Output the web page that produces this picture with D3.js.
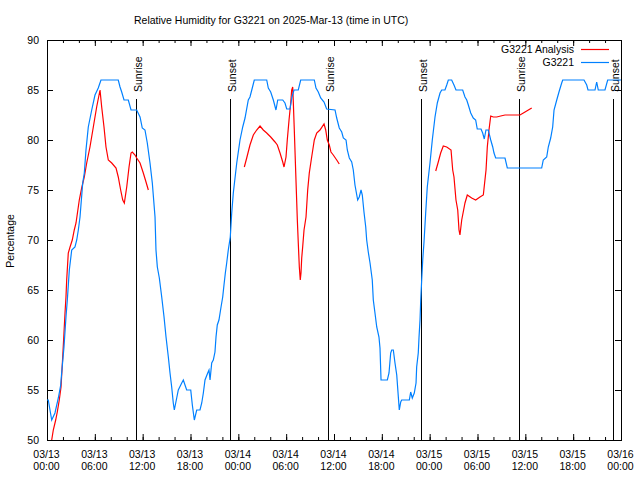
<!doctype html>
<html>
<head>
  <meta charset="utf-8">
  <title>Relative Humidity for G3221</title>
  <style>
  body { margin: 0; background: #fff; }
  #vis text { font-family: "Liberation Sans", Arial, sans-serif; font-size: 10.5px; fill: #000; }
  </style>
</head>
<body>
  <div id="vis"></div>
  <script src="https://d3js.org/d3.v7.min.js"></script>
  <script>
  // hours after 2025-03-13 00:00 UTC, relative humidity in %
  var obsHours = [0, 0.16, 0.59, 1.0, 1.42, 1.72, 1.84, 2.13, 2.38, 2.55, 2.8, 3.1, 3.51, 3.73, 3.93, 4.14, 4.48, 4.68, 4.89, 5.18, 5.61, 6.02, 6.43, 6.77,
    8.94, 9.16, 9.37, 9.66, 10.2, 10.54, 11.25, 11.67, 11.95, 12.29, 12.58, 12.92, 13.21, 13.55, 13.67, 13.84, 14.09, 14.39, 14.68, 14.93, 15.22, 15.43, 15.64, 15.84, 15.97,
    16.27, 16.47, 16.9, 17.1, 17.31, 17.52, 18.03, 18.23, 18.48, 18.78, 19.19, 19.41, 19.61, 19.82, 20.16, 20.32, 20.45, 20.66, 20.86, 21.07, 21.2, 21.36, 21.57, 21.83,
    22.04, 22.2, 22.37, 22.54, 22.74, 22.99, 23.17, 23.37, 23.8, 24.21, 24.55, 24.84, 25.25, 25.46, 25.75, 26.0, 27.56, 27.76, 28.06, 28.39, 28.72, 28.94, 29.57, 29.85,
    30.07, 30.48, 30.73, 30.98, 31.52, 31.82, 33.53, 33.74, 34.03, 34.33, 34.75, 35.08, 36.13, 36.34, 36.66, 36.97, 37.17, 37.51, 37.67, 37.92, 38.22, 38.42, 38.63,
    38.97, 39.17, 39.39, 39.55, 39.76, 39.98, 40.1, 40.3, 40.52, 40.8, 40.93, 41.14, 41.36, 41.64, 41.77, 41.9, 42.69, 42.9, 43.11, 43.24, 43.44, 43.65, 43.87, 44.07,
    44.19, 44.37, 44.49, 45.45, 45.62, 45.82, 46.07, 46.29, 46.37, 46.57, 46.66, 46.79, 46.88, 47.0, 47.13, 47.29, 47.5, 47.7, 48.04, 48.33, 48.67, 48.96, 49.3, 49.51,
    49.92, 50.14, 50.34, 50.76, 51.05, 51.3, 52.14, 52.43, 52.65, 52.85, 53.15, 53.47, 53.77, 53.97, 54.44, 54.65, 54.85, 55.06, 55.35, 55.66, 55.91, 56.07, 56.28,
    57.45, 57.74, 62.05, 62.25, 62.68, 62.88, 63.18, 63.43, 63.6, 63.94, 64.22, 64.56, 64.69, 67.36, 67.7, 67.86, 68.74, 68.95, 69.15, 69.99, 70.33, 72];
  var obsRH = [54, 54, 52, 52.7, 54.2, 55.5, 56.7, 59.3, 62.3, 64, 67, 69, 69.3, 70, 71, 72.3, 75.7, 76.7, 79, 81.3, 83, 84.5, 85.2, 86,
    86, 85.3, 84.8, 84, 84, 83, 83, 82.3, 81.2, 81, 79.7, 77.7, 75.7, 72.3, 69, 67.3, 66.2, 64.3, 62.3, 60.3, 58.3, 56.7, 55.3, 53.7, 53,
    54.2, 55, 55.7, 56, 55.5, 55, 55, 53.5, 52, 53, 53, 53.7, 54.7, 56, 56.7, 57, 56, 57.7, 58, 58.8, 60.3, 61.5, 62, 63.3,
    64.3, 65.5, 66.7, 67.7, 69, 70.3, 72.7, 74.7, 77.7, 80, 81.3, 82.2, 84, 84.3, 85.2, 86, 86, 85.2, 84.8, 84, 83, 84, 84, 83.7,
    83.1, 83.1, 84.3, 85, 85, 86, 86, 85.2, 84.8, 84.2, 83.8, 83.1, 83, 82.2, 81.2, 80.8, 80.2, 80, 79, 78.2, 77.8, 77, 75.5,
    74, 74.3, 75, 74.5, 72.8, 71.3, 70, 68.8, 67.7, 66, 64, 62.7, 61.3, 60.3, 59.2, 56, 56, 56.7, 58.7, 59, 59, 57.7, 56.5, 54.3,
    53, 53.8, 54, 54, 54.8, 54.2, 54.7, 55.7, 57.3, 58.7, 60.2, 62, 64, 66, 68, 69.8, 72.7, 75.3, 77.7, 80, 82.3, 83.7, 84.7, 85,
    85, 85.5, 86, 86, 85.5, 85, 85, 84.3, 84, 83.5, 82.7, 82.2, 82, 81.1, 81.1, 80.7, 80.1, 81, 81, 80, 79.3, 78.7, 78.2,
    78.2, 77.2, 77.2, 78, 78.3, 79.3, 80.2, 81.3, 83, 84, 84.8, 85.7, 86, 86, 85.5, 85, 85, 85.8, 85, 85, 86, 86];

  // analysis series, null marks a gap
  var anaHours = [0.59, 0.79, 1.09, 1.29, 1.54, 1.76, 1.97, 2.13, 2.26, 2.38, 2.47, 2.67, 2.89, 3.17, 3.42, 3.64, 4.05, 4.35, 4.68, 4.98, 5.39, 5.81, 6.23, 6.65,
    6.86, 7.15, 7.4, 7.69, 8.12, 8.66, 8.94, 9.24, 9.5, 9.7, 10.0, 10.29, 10.54, 10.7, 11.04, 11.25, 11.67, 12.08, 12.42, 12.71,
    18,
    24.75, 25.05, 25.46, 25.88, 26.3, 26.72, 27.13, 27.56, 28.06, 28.6, 28.89, 29.23, 29.57, 29.73, 29.98, 30.14, 30.36, 30.57, 30.69, 30.82, 30.9, 31.02, 31.2,
    31.4, 31.52, 31.65, 31.77, 31.86, 31.95, 32.07, 32.24, 32.49, 32.7, 32.9, 33.2, 33.53, 33.83, 34.24, 34.75, 34.96, 35.16, 35.41, 35.62, 35.91, 36.34, 36.66,
    42,
    48.76, 49.08, 49.38, 49.71, 50.14, 50.68, 50.89, 51.05, 51.3, 51.52, 51.68, 51.8, 52.02, 52.43, 52.72, 53.27, 53.77, 54.31, 54.73, 55.07, 55.23, 55.44, 55.66,
    55.98, 56.41, 56.91, 57.45, 59.33, 59.75, 60.17, 60.8];
  var anaRH = [50, 51, 52, 52.8, 54, 55.3, 58.3, 60.7, 62.7, 64.3, 66, 68.7, 69.3, 70, 71, 71.7, 74, 75.2, 76.3, 77.7, 79.3, 81.3, 83.3, 85,
    83.3, 81.3, 79.3, 78, 77.7, 77.2, 76.3, 75, 74, 73.7, 75.3, 77.3, 78.7, 78.8, 78.5, 78.2, 77.7, 76.7, 75.8, 75,
    null,
    77.3, 78.2, 79.5, 80.5, 81, 81.4, 81, 80.7, 80.3, 79.8, 79.5, 78.7, 77.8, 77.3, 78.3, 80, 82, 83.7, 85, 85.3, 83.7, 81, 76.7,
    72, 69.7, 67.3, 66, 66.7, 68.2, 69.3, 71, 72.3, 75, 76.7, 78.3, 80, 80.7, 81, 81.6, 81, 80, 79.5, 78.8, 78.5, 78, 77.6,
    null,
    76.9, 77.8, 78.7, 79.4, 79.3, 79, 77, 76.3, 74, 73, 71, 70.5, 72, 73.7, 74.5, 74.2, 74, 74.3, 74.5, 77, 79.3, 81, 82.4,
    82.3, 82.3, 82.4, 82.5, 82.5, 82.7, 82.9, 83.2];

  var sunHours = [11.2, 23.0, 35.28, 46.95, 59.24, 71.03];
  var sunLabels = ['Sunrise', 'Sunset', 'Sunrise', 'Sunset', 'Sunrise', 'Sunset'];

  var seriesNames = ['G3221 Analysis', 'G3221'];
  var seriesColors = ['#ff0000', '#0080ff'];
  var yTicks = [50, 55, 60, 65, 70, 75, 80, 85, 90];

  var width = 640, height = 480;
  var margin = { top: 40, right: 19, bottom: 40, left: 47 };
  var t0 = Date.UTC(2025, 2, 13);
  function toDate(h){ return new Date(t0 + h * 3600000); }

  var svg = d3.select('#vis').append('svg')
    .attr('width', width)
    .attr('height', height);

  var x = d3.scaleUtc()
    .domain([toDate(0), toDate(72)])
    .range([margin.left, width - margin.right]);
  var y = d3.scaleLinear()
    .domain([50, 90])
    .range([height - margin.bottom, margin.top]);

  // minor ticks every 2 hours
  var minor = d3.utcHour.every(2).range(toDate(0), toDate(72.1));
  svg.append('g')
    .attr('transform', 'translate(0,' + y(50) + ')')
    .call(d3.axisBottom(x).tickValues(minor).tickSize(-3).tickFormat(''))
    .call(function(g){ g.select('.domain').remove(); });
  svg.append('g')
    .attr('transform', 'translate(0,' + y(90) + ')')
    .call(d3.axisTop(x).tickValues(minor).tickSize(-3).tickFormat(''))
    .call(function(g){ g.select('.domain').remove(); });

  // major ticks every 6 hours
  var major = d3.utcHour.every(6).range(toDate(0), toDate(72.1));
  var fmtDay = d3.utcFormat('%m/%d'), fmtHour = d3.utcFormat('%H:%M');
  var gx = svg.append('g')
    .attr('transform', 'translate(0,' + y(50) + ')')
    .call(d3.axisBottom(x).tickValues(major).tickSize(-6).tickFormat(''));
  gx.select('.domain').remove();
  gx.selectAll('.tick').append('text')
    .attr('text-anchor', 'middle')
    .attr('x', -1)
    .attr('y', 17.5)
    .text(function(d){ return fmtDay(d); });
  gx.selectAll('.tick').append('text')
    .attr('text-anchor', 'middle')
    .attr('x', -1)
    .attr('y', 30)
    .text(function(d){ return fmtHour(d); });
  svg.append('g')
    .attr('transform', 'translate(0,' + y(90) + ')')
    .call(d3.axisTop(x).tickValues(major).tickSize(-6).tickFormat(''))
    .call(function(g){ g.select('.domain').remove(); });

  var gy = svg.append('g')
    .attr('transform', 'translate(' + margin.left + ',0)')
    .call(d3.axisLeft(y).tickValues(yTicks).tickSize(-6).tickPadding(8));
  gy.select('.domain').remove();
  gy.selectAll('text').attr('font-size', null).attr('font-family', null);
  svg.append('g')
    .attr('transform', 'translate(' + (width - margin.right) + ',0)')
    .call(d3.axisRight(y).tickValues(yTicks).tickSize(-6).tickFormat(''))
    .call(function(g){ g.select('.domain').remove(); });
  svg.selectAll('.tick line').attr('stroke', '#000');
  svg.selectAll('g').attr('font-size', null).attr('font-family', null);

  svg.append('rect')
    .attr('x', x.range()[0] + 0.5)
    .attr('y', y(90) + 0.5)
    .attr('width', x.range()[1] - x.range()[0])
    .attr('height', y(50) - y(90))
    .attr('fill', 'none')
    .attr('stroke', '#000');

  // sunrise / sunset markers
  var sun = svg.append('g').selectAll('g').data(sunHours).enter().append('g');
  sun.append('line')
    .attr('x1', function(d){ return Math.round(x(toDate(d))) + 0.5; })
    .attr('x2', function(d){ return Math.round(x(toDate(d))) + 0.5; })
    .attr('y1', y(84.1))
    .attr('y2', y(50))
    .attr('stroke', '#000');
  sun.append('text')
    .attr('transform', function(d){ return 'translate(' + (Math.round(x(toDate(d))) + 6) + ',' + 92 + ') rotate(-90)'; })
    .text(function(d, i){ return sunLabels[i]; });

  var line = d3.line()
    .defined(function(d){ return d[1] !== null; })
    .x(function(d){ return x(toDate(d[0])); })
    .y(function(d){ return y(d[1]); });

  var anaData = anaHours.map(function(h, i){ return [h, anaRH[i]]; });
  var obsData = obsHours.map(function(h, i){ return [h, obsRH[i]]; });

  svg.append('path')
    .datum(anaData)
    .attr('fill', 'none')
    .attr('stroke', seriesColors[0])
    .attr('stroke-width', 1.2)
    .attr('d', line);
  svg.append('path')
    .datum(obsData)
    .attr('fill', 'none')
    .attr('stroke', seriesColors[1])
    .attr('stroke-width', 1.2)
    .attr('d', line);

  // legend
  var legend = svg.append('g').selectAll('g').data(seriesNames).enter().append('g')
    .attr('transform', function(d, i){ return 'translate(0,' + (49 + i * 13) + ')'; });
  legend.append('text')
    .attr('x', 574)
    .attr('y', 4)
    .attr('text-anchor', 'end')
    .text(function(d){ return d; });
  legend.append('line')
    .attr('x1', 581).attr('x2', 609)
    .attr('y1', 0.5).attr('y2', 0.5)
    .attr('stroke', function(d, i){ return seriesColors[i]; })
    .attr('stroke-width', 1.2);

  svg.append('text')
    .attr('x', 134)
    .attr('y', 24)
    .text('Relative Humidity for G3221 on 2025-Mar-13 (time in UTC)');

  svg.append('text')
    .attr('transform', 'translate(14,241) rotate(-90)')
    .attr('text-anchor', 'middle')
    .text('Percentage');
  </script>
</body>
</html>
